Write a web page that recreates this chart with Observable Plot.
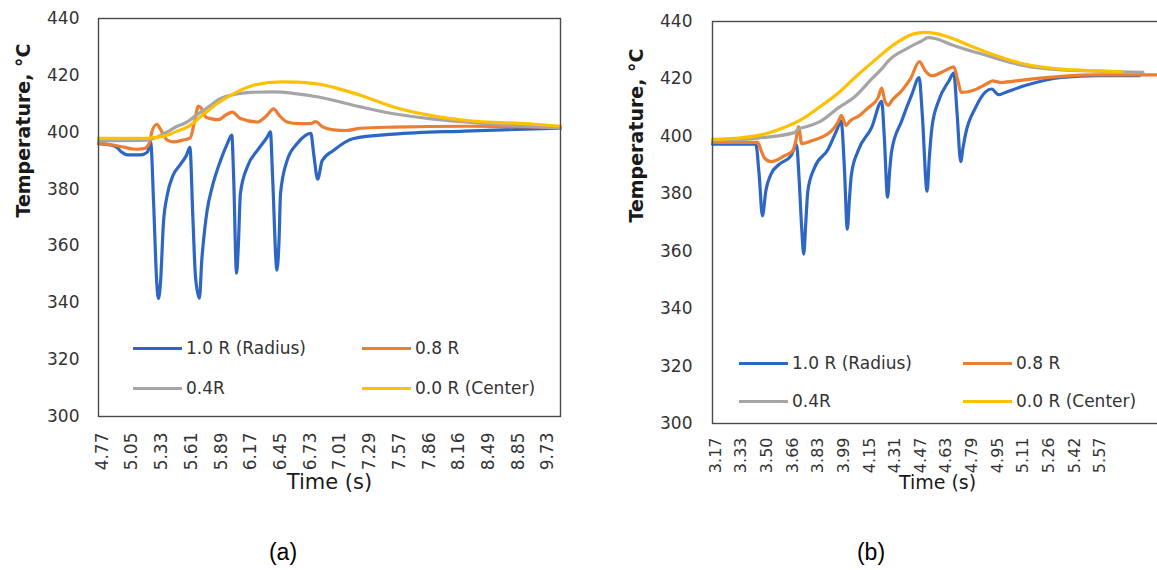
<!DOCTYPE html>
<html><head><meta charset="utf-8">
<script src="https://cdn.jsdelivr.net/npm/d3@7"></script>
<script src="https://cdn.jsdelivr.net/npm/@observablehq/plot@0.6"></script>
<style>
html,body{margin:0;padding:0;overflow:hidden;background:#fff;width:1157px;height:570px;}
#wrap{position:relative;width:1157px;height:570px;overflow:hidden;}
.panel{position:absolute;top:0;}
.leg{position:absolute;height:20px;font:17px "DejaVu Sans";color:#333;white-space:nowrap;display:flex;align-items:center;}
.sw{display:inline-block;width:49px;height:3px;margin-right:4px;}
.cap{position:absolute;font:23px "Liberation Sans";color:#000;transform:translate(-50%,-50%);}
</style></head><body><div id="wrap"></div>
<script>
// ---- tick labels (category axis, one label every 10 samples) ----
const timesA = ["4.77","5.05","5.33","5.61","5.89","6.17","6.45","6.73","7.01","7.29","7.57","7.86","8.16","8.49","8.85","9.73"];
const timesB = ["3.17","3.33","3.50","3.66","3.83","3.99","4.15","4.31","4.47","4.63","4.79","4.95","5.11","5.26","5.42","5.57"];
const yTicks = [300,320,340,360,380,400,420,440];
const seriesNames = ["1.0 R (Radius)","0.8 R","0.4R","0.0 R (Center)"];
const colors = ["#2E66C4","#ED7D31","#A5A5A5","#FFC000"];

// ---- panel (a): [sample index, temperature °C] ----
const blueA = [[-1.25,396],[2.8,395.5],[5.1,394.5],[6.5,393],[8.5,392],[12.9,392],[15.2,393],[16.3,396.5],[17.3,375],[18.3,348],[18.9,341.5],[19.6,347],[20.6,368],[21.9,378],[23.7,384.5],[26.2,388.5],[28.4,392],[29.5,394.7],[30.5,370],[31.4,349],[32.7,341.6],[33.5,355],[34.5,366],[35.3,372.5],[37.0,380.7],[39.8,390],[42.1,396],[43.6,399],[44.2,385],[45.2,350.4],[45.8,360],[46.5,378.5],[48.8,387.8],[52.2,393.6],[55.5,398.3],[56.6,400.1],[57.3,385],[58.8,351.5],[59.5,362],[60.0,378.5],[62.2,390],[65.6,396],[70.2,399.6],[71.2,392],[72.5,383.5],[74.0,390],[77.8,393.6],[84.6,397.8],[98,399.3],[121.9,400.4],[154.2,401.4]];
const orangeA = [[-1.25,396],[3,395.6],[7,394.8],[11,394],[14,394.2],[15.8,396],[16.8,400.5],[18.4,402.8],[19.6,401],[21.9,397.2],[24,396.6],[27,397.2],[29.6,398],[31.1,404],[32.4,409.2],[33.3,408.5],[35,405.2],[36.4,404.8],[39.1,404.4],[41.5,406],[43.8,407.1],[46.5,404.8],[52.2,403.6],[55,405.5],[57.7,408.2],[59.5,406],[62.2,403.6],[66,403],[70.1,403],[71.8,403.7],[74,402],[77.9,400.8],[82,400.6],[86.9,401.4],[98,401.8],[121.9,402.1],[154.2,401.8]];
const grayA = [[-1.25,397],[15.2,397.2],[19.0,398.5],[21.9,400.1],[25,402],[28.6,403.6],[31,405.5],[34.1,407.7],[37.2,410],[38.7,411.2],[43.3,413],[50,414],[57.7,414.2],[65,413.6],[72.8,412.4],[86.9,408.9],[98,406.5],[110,404.8],[121.9,403.6],[135,402.6],[154.2,401.4]];
const yellowA = [[-1.25,397.8],[14.7,397.8],[18,398.2],[21.9,398.9],[25,400.3],[28.6,401.8],[33.1,405.4],[38.7,410.1],[44.3,413.6],[50.9,416.5],[60,417.7],[66,417.6],[72.8,416.9],[86.9,413],[98,408.9],[110,406],[121.9,404.2],[145.8,402.8],[154.2,402.1]];

// ---- panel (b) ----
const blueB = [[-1.2,397.3],[15.7,397.3],[17.0,386.8],[18.3,372.3],[19.6,381],[21.6,386.8],[24.9,390.3],[29.4,393.2],[31.6,397],[32.6,385],[33.6,368],[34.4,359],[35.2,370],[36.0,381],[38.6,389.1],[43.9,395.5],[47.2,402],[49.0,405.4],[50.2,390],[51.4,367.7],[52.2,378],[53.0,386.8],[55.6,395],[60.9,403.1],[64.8,412.2],[65.8,400],[67.1,378.8],[67.9,388],[68.7,395],[72.6,405.4],[76.6,414.7],[79.4,420.5],[80.6,408],[82.5,380.9],[83.4,393],[84.4,403.1],[87.0,412.4],[91.0,419.3],[92.9,422],[94.2,408],[95.6,391.2],[96.5,396],[97.5,400.8],[101.4,410],[105.3,415.5],[107.7,416.5],[110.3,414.5],[113,415.3],[120.4,417.6],[134.9,420.5],[149.2,421.1],[165.3,421.1]];
const orangeB = [[-1.2,397.9],[16.4,397.9],[17.8,395],[19.0,392.6],[21.6,391.2],[26.8,393.2],[30.1,395],[31.2,398],[32.4,403.3],[33.6,397.5],[37.3,398.4],[45.2,401.9],[47.8,405],[49.1,407.3],[50.9,403.8],[52.3,405.2],[56,407.2],[59.6,410],[63.4,413.5],[64.8,416.8],[66.0,412.5],[67.4,410.8],[68.7,412.4],[72.6,415.9],[76,420],[79.5,426],[81.8,422.8],[84.3,421.1],[89.3,422.8],[92.9,424.2],[94.6,419],[95.8,415.3],[100.1,415.9],[106,418.4],[108.1,419.3],[111,418.8],[120.4,419.7],[134.9,420.9],[149.3,421.4],[176,421.4]];
const grayB = [[-1.2,398.5],[16.4,399.4],[30.8,401.3],[32.1,402.5],[36,403.5],[41.2,405.4],[48,410],[54.3,413.8],[60.9,420],[64.8,423.5],[67.4,426.3],[75.3,430.9],[80.5,433.3],[82.8,434.4],[86,434],[91.5,432.1],[106,428.1],[120.4,424.6],[134.9,423.1],[157.8,422.5],[166.7,422.3]];
const yellowB = [[-1.2,399],[10,399.5],[19.2,400.8],[26,402.8],[33.7,406],[41,410.5],[48.1,415.3],[55,421],[62.6,426.9],[69.8,432.1],[77.0,435.6],[81.4,436.2],[86,435.8],[91.5,434.4],[98,432],[106,429.2],[120.4,425.2],[134.9,423.4],[149.2,422.8],[158.6,422.5]];

function panel(series, times, o) {
  return Plot.plot({
    width: o.width, height: o.height,
    marginLeft: o.ml, marginRight: o.mr, marginTop: o.mt, marginBottom: o.mb,
    x: {type: "linear", domain: o.xd, axis: null},
    y: {domain: [300, 440], axis: null},
    style: {fontFamily: "DejaVu Sans", fontSize: "17px", color: "#333", background: "transparent", overflow: "visible"},
    marks: [
      Plot.axisY({ticks: yTicks, tickSize: 0, tickPadding: o.yPad, fontSize: 17, label: null}),
      Plot.axisX({ticks: times.map((_, k) => k * 10), tickFormat: i => times[Math.round(i / 10)], tickRotate: -90, tickSize: 0, tickPadding: o.xPad, fontSize: o.xTickSize, label: null}),
      ...series.map((pts, s) => Plot.line(pts, {x: d => d[0], y: d => d[1], stroke: colors[s], strokeWidth: 3.2, curve: "monotone-x"})),
      Plot.frame({stroke: "#4a4a4a", strokeWidth: 1.4}),
      Plot.text(["Time (s)"], {text: d => d, frameAnchor: "bottom", dy: o.xTitleDy, fontSize: o.xTitleSize, fill: "#1a1a1a"}),
      Plot.text(["Temperature, °C"], {text: d => d, frameAnchor: "left", dx: o.yTitleDx, rotate: -90, fontSize: 19, fontWeight: "bold", fill: "#1a1a1a"})
    ]
  });
}

const wrap = document.getElementById("wrap");

const pa = panel([blueA, orangeA, grayA, yellowA], timesA,
  {width: 580, height: 516, ml: 98, mr: 20, mt: 18, mb: 100, xd: [-1.25, 154.2], yPad: 19, xPad: 16, xTickSize: 17, xTitleDy: 72, xTitleSize: 21, yTitleDx: -75});
pa.classList.add("panel"); pa.style.left = "0px";
wrap.appendChild(pa);

const pb = panel([blueB, orangeB, grayB, yellowB], timesB,
  {width: 572, height: 523, ml: 112, mr: 10, mt: 21, mb: 100, xd: [-1.18, 174.3], yPad: 20, xPad: 14, xTickSize: 16, xTitleDy: 65, xTitleSize: 19, yTitleDx: -76});
pb.classList.add("panel"); pb.style.left = "600px";
wrap.appendChild(pb);

// legends (inside each plot area)
function legend(pos) {
  pos.forEach(([x, y], s) => {
    const d = document.createElement("div");
    d.className = "leg";
    d.style.left = x + "px"; d.style.top = (y - 10) + "px";
    const sw = document.createElement("span");
    sw.className = "sw"; sw.style.background = colors[s];
    d.appendChild(sw);
    d.appendChild(document.createTextNode(seriesNames[s]));
    wrap.appendChild(d);
  });
}
legend([[133, 348], [362, 348], [133, 388], [362, 388]]);
legend([[739, 363], [963, 363], [739, 401], [963, 401]]);

[["(a)", 283, 552], ["(b)", 871, 552]].forEach(([t, x, y]) => {
  const c = document.createElement("div");
  c.className = "cap"; c.textContent = t;
  c.style.left = x + "px"; c.style.top = y + "px";
  wrap.appendChild(c);
});
</script></body></html>
